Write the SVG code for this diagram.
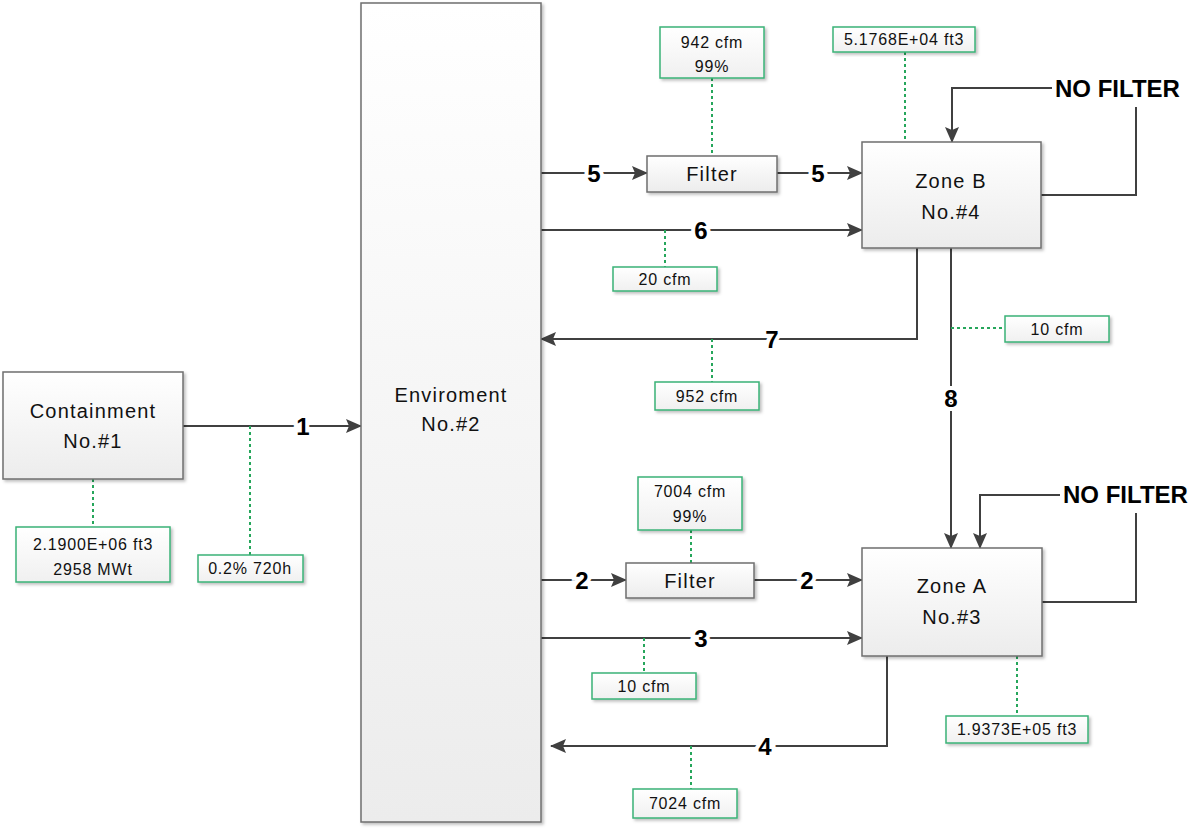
<svg xmlns="http://www.w3.org/2000/svg" width="1200" height="831" viewBox="0 0 1200 831">
<defs>
<linearGradient id="gBox" x1="0" y1="0" x2="0" y2="1"><stop offset="0" stop-color="#ffffff"/><stop offset="1" stop-color="#ececec"/></linearGradient>
<linearGradient id="gLab" x1="0" y1="0" x2="0" y2="1"><stop offset="0" stop-color="#ffffff"/><stop offset="1" stop-color="#f0f0f0"/></linearGradient>
<filter id="sh" x="-10%" y="-10%" width="130%" height="130%"><feDropShadow dx="2" dy="2" stdDeviation="1.5" flood-color="#000" flood-opacity="0.25"/></filter>
<marker id="ah" markerWidth="16" markerHeight="14" refX="15" refY="7" orient="auto" markerUnits="userSpaceOnUse"><path d="M0,0 L16,7 L0,14 L3,7 Z" fill="#404040"/></marker>
</defs>
<style>
.node{fill:url(#gBox);stroke:#6f6f6f;stroke-width:1.5;filter:url(#sh)}
.lab{fill:url(#gLab);stroke:#3ab377;stroke-width:1.5;filter:url(#sh)}
.t{font-family:"Liberation Sans",Arial,sans-serif;font-size:20px;fill:#111;text-anchor:middle;letter-spacing:1.2px}
.lt{font-family:"Liberation Sans",Arial,sans-serif;font-size:16px;fill:#111;text-anchor:middle;letter-spacing:0.8px}
.num{font-family:"Liberation Sans",Arial,sans-serif;font-size:24px;font-weight:bold;fill:#000;text-anchor:middle;stroke:#fff;stroke-width:8;paint-order:stroke}
.nf{font-family:"Liberation Sans",Arial,sans-serif;font-size:24px;font-weight:bold;fill:#000}
.c{fill:none;stroke:#404040;stroke-width:2}
.d{fill:none;stroke:#26a65b;stroke-width:2;stroke-dasharray:3 3}
</style>
<rect width="1200" height="831" fill="#ffffff"/>

<g id="connectors">
<path class="c" d="M183,426 H361" marker-end="url(#ah)"/>
<path class="c" d="M541,173 H647" marker-end="url(#ah)"/>
<path class="c" d="M777,173 H862" marker-end="url(#ah)"/>
<path class="c" d="M541,230 H862" marker-end="url(#ah)"/>
<path class="c" d="M917,248 V339 H541" marker-end="url(#ah)"/>
<path class="c" d="M951,248 V548" marker-end="url(#ah)"/>
<path class="c" d="M1041,195 H1136 V107"/>
<path class="c" d="M1052,88 H952 V142" marker-end="url(#ah)"/>
<path class="c" d="M541,580 H626" marker-end="url(#ah)"/>
<path class="c" d="M754,580 H862" marker-end="url(#ah)"/>
<path class="c" d="M541,638 H862" marker-end="url(#ah)"/>
<path class="c" d="M887,656 V746 H551" marker-end="url(#ah)"/>
<path class="c" d="M1042,602 H1136 V513"/>
<path class="c" d="M1060,495 H980 V548" marker-end="url(#ah)"/>
<path class="d" d="M93,479 V527"/>
<path class="d" d="M250,426 V555"/>
<path class="d" d="M712,78 V156"/>
<path class="d" d="M905,52 V142"/>
<path class="d" d="M665,230 V267"/>
<path class="d" d="M712,339 V382"/>
<path class="d" d="M951,328 H1005"/>
<path class="d" d="M691,530 V563"/>
<path class="d" d="M644,638 V673"/>
<path class="d" d="M691,746 V789"/>
<path class="d" d="M1017,656 V716"/>
<text class="num" x="303" y="435">1</text>
<text class="num" x="594" y="182">5</text>
<text class="num" x="818" y="182">5</text>
<text class="num" x="701" y="239">6</text>
<text class="num" x="772" y="348">7</text>
<text class="num" x="951" y="407">8</text>
<text class="num" x="582" y="589">2</text>
<text class="num" x="807" y="589">2</text>
<text class="num" x="701" y="647">3</text>
<text class="num" x="765" y="755">4</text>
<text class="nf" x="1055" y="97">NO FILTER</text>
<text class="nf" x="1063" y="503">NO FILTER</text>
</g>

<g id="containment">
<rect class="node" x="3" y="372" width="180" height="107"/>
<text class="t" x="93" y="418">Containment</text>
<text class="t" x="93" y="448">No.#1</text>
</g>
<g id="environment">
<rect class="node" x="361" y="3" width="180" height="819"/>
<text class="t" x="451" y="402">Enviroment</text>
<text class="t" x="451" y="431">No.#2</text>
</g>
<g id="filterB">
<rect class="node" x="647" y="156" width="130" height="36"/>
<text class="t" x="712" y="181">Filter</text>
</g>
<g id="zoneB">
<rect class="node" x="862" y="142" width="179" height="106"/>
<text class="t" x="951" y="188">Zone B</text>
<text class="t" x="951" y="219">No.#4</text>
</g>
<g id="filterA">
<rect class="node" x="626" y="563" width="128" height="35"/>
<text class="t" x="690" y="588">Filter</text>
</g>
<g id="zoneA">
<rect class="node" x="862" y="548" width="180" height="108"/>
<text class="t" x="952" y="593">Zone A</text>
<text class="t" x="952" y="624">No.#3</text>
</g>

<g id="lab-containment">
<rect class="lab" x="16" y="527" width="154" height="55"/>
<text class="lt" x="93" y="550">2.1900E+06 ft3</text>
<text class="lt" x="93" y="575">2958 MWt</text>
</g>
<g id="lab-leak">
<rect class="lab" x="198" y="555" width="105" height="27"/>
<text class="lt" x="250" y="574">0.2% 720h</text>
</g>
<g id="lab-filterB">
<rect class="lab" x="660" y="27" width="104" height="51"/>
<text class="lt" x="712" y="48">942 cfm</text>
<text class="lt" x="712" y="72">99%</text>
</g>
<g id="lab-zoneB">
<rect class="lab" x="833" y="27" width="142" height="25"/>
<text class="lt" x="904" y="45">5.1768E+04 ft3</text>
</g>
<g id="lab-6">
<rect class="lab" x="613" y="267" width="104" height="24"/>
<text class="lt" x="665" y="285">20 cfm</text>
</g>
<g id="lab-7">
<rect class="lab" x="655" y="382" width="104" height="28"/>
<text class="lt" x="707" y="402">952 cfm</text>
</g>
<g id="lab-8">
<rect class="lab" x="1005" y="316" width="104" height="26"/>
<text class="lt" x="1057" y="335">10 cfm</text>
</g>
<g id="lab-filterA">
<rect class="lab" x="638" y="477" width="104" height="53"/>
<text class="lt" x="690" y="497">7004 cfm</text>
<text class="lt" x="690" y="522">99%</text>
</g>
<g id="lab-3">
<rect class="lab" x="592" y="673" width="104" height="26"/>
<text class="lt" x="644" y="692">10 cfm</text>
</g>
<g id="lab-4">
<rect class="lab" x="633" y="789" width="104" height="29"/>
<text class="lt" x="685" y="809">7024 cfm</text>
</g>
<g id="lab-zoneA">
<rect class="lab" x="946" y="716" width="142" height="27"/>
<text class="lt" x="1017" y="735">1.9373E+05 ft3</text>
</g>
</svg>
